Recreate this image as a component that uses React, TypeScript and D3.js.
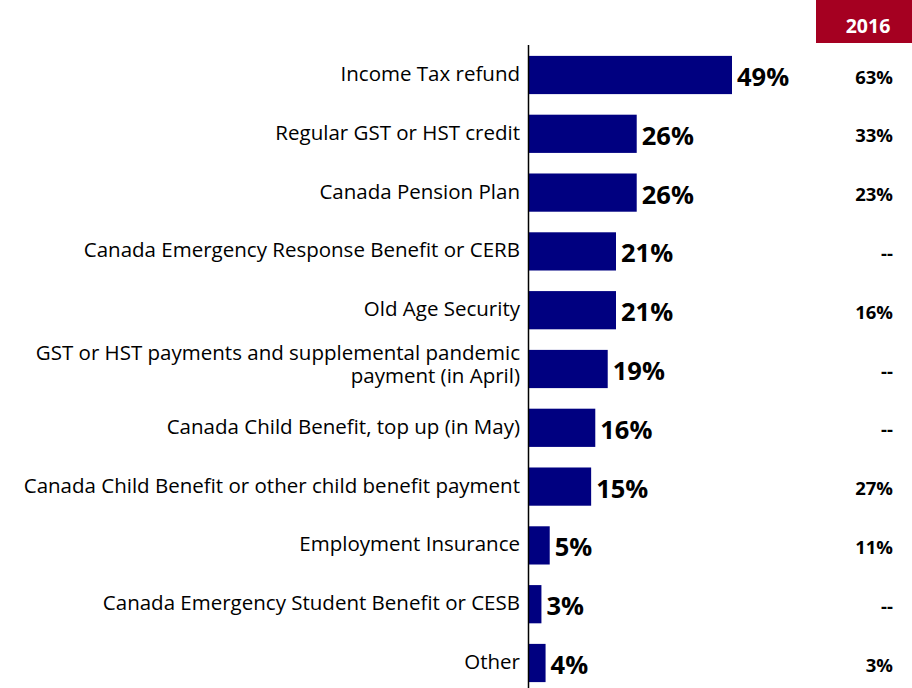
import React from "react";
import * as d3 from "d3";

const categories = [
  "Income Tax refund",
  "Regular GST or HST credit",
  "Canada Pension Plan",
  "Canada Emergency Response Benefit or CERB",
  "Old Age Security",
  "GST or HST payments and supplemental pandemic|payment (in April)",
  "Canada Child Benefit, top up (in May)",
  "Canada Child Benefit or other child benefit payment",
  "Employment Insurance",
  "Canada Emergency Student Benefit or CESB",
  "Other",
];
const values2020 = [49, 26, 26, 21, 21, 19, 16, 15, 5, 3, 4];
const values2016 = ["63%", "33%", "23%", "--", "16%", "--", "--", "27%", "11%", "--", "3%"];
const headerLabel = "2016";

const W = 912;
const H = 688;
const FONT = "'Open Sans', 'Noto Sans', sans-serif";

export default function App() {
  const x = d3.scaleLinear().domain([0, 49]).range([529, 732]);
  const y = d3
    .scaleBand<number>()
    .domain(categories.map((_, i) => i))
    .range([45.6, 692.4])
    .paddingInner(0.35)
    .paddingOuter(0.175);

  return (
    <svg
      width={W}
      height={H}
      style={{ position: "absolute", left: 0, top: 0, background: "#fff" }}
      fontFamily={FONT}
    >
      <rect x={816} y={0} width={96} height={43} fill="#A50021" />
      <text
        x={868}
        y={25}
        fill="#fff"
        fontWeight="bold"
        fontSize={19.5}
        textAnchor="middle"
        dominantBaseline="central"
      >
        {headerLabel}
      </text>
      {categories.map((c, i) => {
        const yc = (y(i) as number) + y.bandwidth() / 2;
        const lines = c.split("|");
        const lh = 23;
        return (
          <g key={i}>
            <rect
              x={x(0)}
              y={y(i)}
              width={x(values2020[i]) - x(0)}
              height={y.bandwidth()}
              fill="#000080"
            />
            {lines.map((l, j) => (
              <text
                key={j}
                x={520}
                y={yc - 2 - ((lines.length - 1) * lh) / 2 + j * lh - (lines.length > 1 ? 4 : 0)}
                textAnchor="end"
                dominantBaseline="central"
                fontSize={20.5}
                fill="#000"
              >
                {l}
              </text>
            ))}
            <text
              x={x(values2020[i]) + 5}
              y={yc + 1}
              dominantBaseline="central"
              fontSize={25.5}
              fontWeight="bold"
              fill="#000"
            >
              {values2020[i]}%
            </text>
            <text
              x={893}
              y={yc + 1}
              textAnchor="end"
              dominantBaseline="central"
              fontSize={18.5}
              fontWeight="bold"
              fill="#000"
            >
              {values2016[i]}
            </text>
          </g>
        );
      })}
      <line x1={528.5} x2={528.5} y1={45} y2={H} stroke="#000" strokeWidth={1.5} />
    </svg>
  );
}
